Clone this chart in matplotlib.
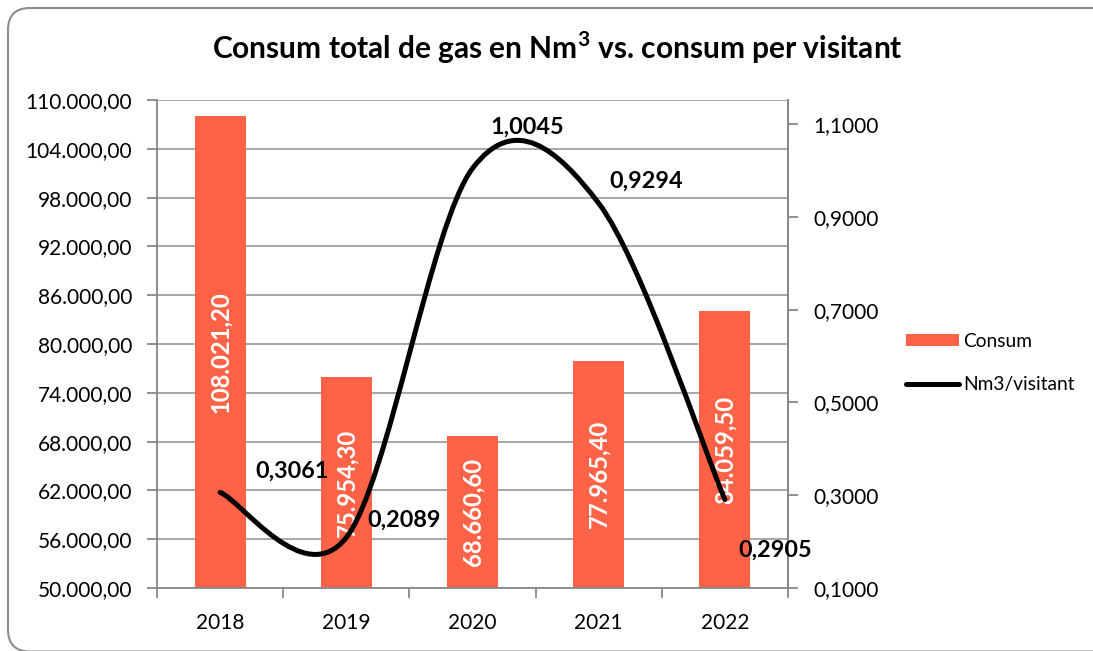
import matplotlib
matplotlib.use('Agg')
import matplotlib.pyplot as plt
from matplotlib.path import Path
from matplotlib.patches import PathPatch, FancyBboxPatch, Patch
from matplotlib.lines import Line2D

# ---- data ----
years = ['2018', '2019', '2020', '2021', '2022']
consum = [108021.20, 75954.30, 68660.60, 77965.40, 84059.50]
per_visitant = [0.3061, 0.2089, 1.0045, 0.9294, 0.2905]
left_ticks = [50000, 56000, 62000, 68000, 74000, 80000, 86000, 92000, 98000, 104000, 110000]
right_ticks = [0.1, 0.3, 0.5, 0.7, 0.9, 1.1]

BAR_COLOR = '#FF6347'
GRID = '#A0A0A0'
AXC = '#888888'
FONT = 'Lato'

plt.rcParams['font.family'] = [FONT, 'DejaVu Sans']
plt.rcParams['mathtext.fontset'] = 'custom'
plt.rcParams['mathtext.rm'] = 'Lato'
plt.rcParams['mathtext.bf'] = 'Lato:bold'


def fmt_es(v, d):
    s = f"{v:,.{d}f}"
    return s.replace(',', 'X').replace('.', ',').replace('X', '.')


W, H = 1093, 651
fig = plt.figure(figsize=(W / 100, H / 100), dpi=100)
ax = fig.add_axes([157 / W, 1 - 588 / H, (788 - 157) / W, (588 - 100) / H])
ax2 = ax.twinx()

x = list(range(len(years)))
ax.bar(x, [v - left_ticks[0] for v in consum], bottom=left_ticks[0], width=0.405,
       color=BAR_COLOR, zorder=2)
ax.set_xlim(-0.5, len(years) - 0.5)
ax.set_ylim(left_ticks[0], left_ticks[-1])
ax.set_yticks(left_ticks)
ax.set_yticklabels([fmt_es(v, 2) for v in left_ticks])
ax.yaxis.grid(True, color=GRID, lw=1.3, zorder=0)
ax.set_axisbelow(True)
ax.set_xticks(x)
ax.set_xticklabels(years)
ax.set_xticks([i - 0.5 for i in range(len(years) + 1)], minor=True)
ax.tick_params(axis='x', which='major', length=0, pad=18, labelsize=15)
ax.tick_params(axis='x', which='minor', length=7, color=AXC, width=1.3)
ax.tick_params(axis='y', length=7, color=AXC, width=1.3, pad=11, labelsize=15)
for s in ['left', 'bottom', 'right']:
    ax.spines[s].set_color(AXC)
    ax.spines[s].set_linewidth(1.3)
ax.spines['top'].set_visible(False)

# bar labels
for i, v in enumerate(consum):
    ax.text(i, (left_ticks[0] + v) / 2, fmt_es(v, 2), rotation=90, ha='center', va='center',
            color='white', fontsize=17.2, fontweight='bold', zorder=3)

# right axis
ax2.set_ylim(0.1, 1.152)
ax2.set_yticks(right_ticks)
ax2.set_yticklabels([fmt_es(v, 4) for v in right_ticks])
ax2.tick_params(axis='y', length=7, color=AXC, width=1.3, pad=11, labelsize=15)
for s in ['left', 'bottom', 'right', 'top']:
    ax2.spines[s].set_visible(False)
ax2.spines['right'].set_visible(True)
ax2.spines['right'].set_color(AXC)
ax2.spines['right'].set_linewidth(1.3)


def smooth_path(xs, ys):
    pts = list(zip(xs, ys))
    n = len(pts)
    verts = [pts[0]]
    codes = [Path.MOVETO]
    for i in range(n - 1):
        p0 = pts[i - 1] if i > 0 else pts[i]
        p1 = pts[i]
        p2 = pts[i + 1]
        p3 = pts[i + 2] if i + 2 < n else pts[i + 1]
        c1 = (p1[0] + (p2[0] - p0[0]) / 6, p1[1] + (p2[1] - p0[1]) / 6)
        c2 = (p2[0] - (p3[0] - p1[0]) / 6, p2[1] - (p3[1] - p1[1]) / 6)
        verts += [c1, c2, p2]
        codes += [Path.CURVE4] * 3
    return Path(verts, codes)


ax2.add_patch(PathPatch(smooth_path(x, per_visitant), fill=False, edgecolor='black',
                        lw=3.6, capstyle='round', joinstyle='round', zorder=4))

# line labels (offsets in pixels from the point)
offsets = [(35, 21), (21, 17), (18, 41), (11, 22), (13, -51)]
for i, v in enumerate(per_visitant):
    ax2.annotate(fmt_es(v, 4), (i, v), xytext=offsets[i], textcoords='offset pixels',
                 ha='left', va='center', fontsize=16.8, fontweight='bold', color='black',
                 zorder=5, annotation_clip=False)

# title
fig.text(557 / W, 1 - 48 / H, r'Consum total de gas en Nm$^{\mathbf{3}}$ vs. consum per visitant',
         ha='center', va='center', fontsize=21.5, fontweight='bold')

# legend
handles = [Patch(facecolor=BAR_COLOR, edgecolor='none'),
           Line2D([0], [0], color='black', lw=3.6, solid_capstyle='round')]
fig.legend(handles, ['Consum', 'Nm3/visitant'], loc='center left',
           bbox_to_anchor=(906 / W, 1 - 363 / H), frameon=False, fontsize=13.8,
           handlelength=2.75, handleheight=0.55, handletextpad=0.25,
           labelspacing=1.4, borderpad=0, borderaxespad=0)

# chart area border
border = FancyBboxPatch((8, -0.5), 1110, H - 7.5, boxstyle='round,pad=0,rounding_size=22',
                        transform=None, fill=False, edgecolor='#8C8C8C', lw=1.5)
fig.patches.append(border)

fig.savefig('out.png', dpi=100)
